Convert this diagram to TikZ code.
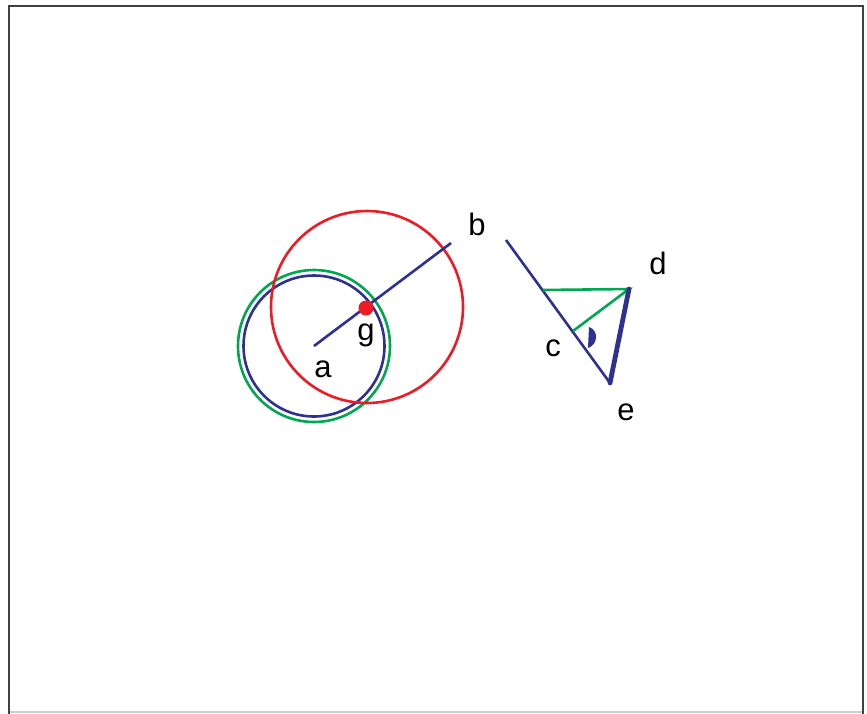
\documentclass[tikz,border=0pt]{standalone}
\usepackage{fontspec}
\setmainfont{Liberation Sans}
\definecolor{navy}{RGB}{46,49,146}
\definecolor{ired}{RGB}{237,28,36}
\definecolor{igreen}{RGB}{0,166,81}
\definecolor{framec}{RGB}{64,64,68}
\begin{document}
\begin{tikzpicture}[x=1pt,y=-1pt,
  lbl/.style={anchor=base,inner sep=0pt,font=\fontsize{31}{36}\selectfont},
  thin/.style={line width=2.6pt},
  thick/.style={line width=4.8pt}]
\useasboundingbox (0,0) rectangle (867,713);
% frame
\draw[framec,line width=2pt] (9,714) -- (9,6) -- (863,6) -- (863,714);
\draw[gray!40,line width=1.5pt] (10,712) -- (862,712);
% points
\coordinate (a) at (314,346);
\coordinate (b) at (451,243);
\coordinate (g) at (366,308);
\coordinate (r) at (367,307);
\coordinate (t) at (506,240);
\coordinate (f) at (543,290);
\coordinate (c) at (573,331);
\coordinate (d) at (629,289);
\coordinate (e) at (610,383);
\coordinate (m1) at (589,327);
\coordinate (m2) at (588,348);
% circles
\draw[igreen,thin] (a) circle[radius=76];
\draw[navy,thin] (a) circle[radius=70.5];
\draw[ired,thin] (r) circle[radius=96];
\draw[navy,thin] (a) -- (b);
\fill[ired] (g) circle[radius=7.5];
% right figure
\draw[navy,thin] (t) -- (e);
\draw[igreen,thin] (f) -- (d) -- (c);
\draw[navy,thick,line cap=round] (d) -- (e);
\fill[navy] (m1) .. controls (599,330) and (598,345) .. (m2) -- cycle;
% labels
\node[lbl] (la) at (323,377) {a};
\node[lbl] (lb) at (477,235) {b};
\node[lbl] (lg) at (366,340) {g};
\node[lbl] (lc) at (553,356) {c};
\node[lbl] (ld) at (658,274) {d};
\node[lbl] (le) at (626,420) {e};
\end{tikzpicture}
\end{document}
